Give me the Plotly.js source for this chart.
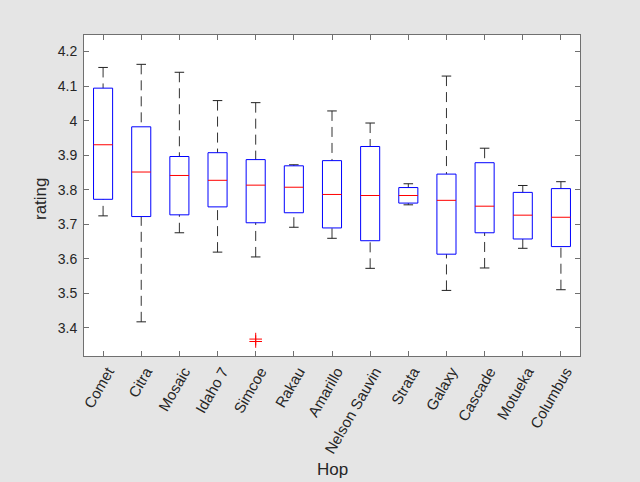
<!DOCTYPE html>
<html><head><meta charset="utf-8">
<script src="https://cdn.plot.ly/plotly-3.0.1.min.js"></script>
<style>html,body{margin:0;padding:0;background:#e5e5e5;}</style>
</head><body><div id="chart" style="width:640px;height:482px;"></div>
<script>
const hops = ["Comet","Citra","Mosaic","Idaho 7","Simcoe","Rakau","Amarillo","Nelson Sauvin","Strata","Galaxy","Cascade","Motueka","Columbus"];
const upperWhisker = [4.154,4.163,4.140,4.058,4.052,3.872,4.028,3.993,3.817,4.129,3.920,3.812,3.823];
const q3Values     = [4.094,3.982,3.896,3.907,3.887,3.869,3.884,3.925,3.806,3.845,3.878,3.792,3.803];
const medians      = [3.930,3.851,3.841,3.827,3.813,3.807,3.786,3.783,3.783,3.769,3.752,3.726,3.720];
const q1Values     = [3.772,3.722,3.727,3.750,3.704,3.733,3.689,3.652,3.761,3.613,3.675,3.657,3.635];
const lowerWhisker = [3.724,3.417,3.675,3.619,3.605,3.691,3.659,3.572,3.756,3.508,3.573,3.630,3.510];
const outlierHop   = ["Simcoe","Simcoe"];
const outlierVals  = [3.367,3.360];
const yTicks       = [3.4,3.5,3.6,3.7,3.8,3.9,4.0,4.1,4.2];
const yTickText    = ['3.4','3.5','3.6','3.7','3.8','3.9','4','4.1','4.2'];

const BW = 0.25, CW = 0.125;
const bx=[],by=[],mx=[],my=[],wx=[],wy=[],cx=[],cy=[];
hops.forEach((h,i)=>{
  const p=i+1;
  bx.push(p-BW,p+BW,p+BW,p-BW,p-BW,null);
  by.push(q1Values[i],q1Values[i],q3Values[i],q3Values[i],q1Values[i],null);
  mx.push(p-BW,p+BW,null); my.push(medians[i],medians[i],null);
  wx.push(p,p,null,p,p,null);
  wy.push(upperWhisker[i],q3Values[i],null,lowerWhisker[i],q1Values[i],null);
  cx.push(p-CW,p+CW,null,p-CW,p+CW,null);
  cy.push(upperWhisker[i],upperWhisker[i],null,lowerWhisker[i],lowerWhisker[i],null);
});
const ox = outlierHop.map(h=>hops.indexOf(h)+1);

const traces=[
 {x:wx,y:wy,mode:'lines',line:{color:'#333',width:1,dash:'10px,6px'},hoverinfo:'skip'},
 {x:cx,y:cy,mode:'lines',line:{color:'#222',width:1},hoverinfo:'skip'},
 {x:bx,y:by,mode:'lines',line:{color:'#0000ff',width:1},hoverinfo:'skip'},
 {x:mx,y:my,mode:'lines',line:{color:'#ff0000',width:1},hoverinfo:'skip'},
 {x:ox,y:outlierVals,mode:'markers',marker:{symbol:'cross-thin-open',size:9,color:'#ff0000',line:{color:'#ff0000',width:1}},hoverinfo:'skip'}
];
const FAM='Liberation Sans, Arial, sans-serif';
const yfnt={family:FAM,size:14,color:'#262626'};
const xfnt={family:FAM,size:15,color:'#262626'};
const tfnt={family:FAM,size:17,color:'#262626'};
const layout={
 width:640,height:482,showlegend:false,
 paper_bgcolor:'#e5e5e5',plot_bgcolor:'#ffffff',
 margin:{l:84,r:60,t:35,b:126},
 font:yfnt,
 xaxis:{range:[0.5,13.5],tickvals:hops.map((h,i)=>i+1),ticktext:hops,tickangle:-60,
   showgrid:false,zeroline:false,showline:true,linecolor:'#707070',linewidth:1,mirror:'ticks',
   ticks:'inside',ticklen:5,tickcolor:'#707070',tickfont:xfnt,ticklabelshift:5,automargin:false},
 yaxis:{range:[3.318,4.248],tickvals:yTicks,ticktext:yTickText,
   showgrid:false,zeroline:false,showline:true,linecolor:'#707070',linewidth:1,mirror:'ticks',
   ticks:'inside',ticklen:5,tickcolor:'#707070',tickfont:yfnt,ticklabelstandoff:3,automargin:false},
 annotations:[
   {text:'Hop',xref:'paper',yref:'paper',x:0.5,y:-0.355,xanchor:'center',yanchor:'middle',showarrow:false,font:tfnt},
   {text:'rating',xref:'paper',yref:'paper',x:-0.0887,y:0.489,xanchor:'center',yanchor:'middle',textangle:-90,showarrow:false,font:tfnt}
 ]
};
Plotly.newPlot('chart',traces,layout,{displayModeBar:false,staticPlot:true});
</script></body></html>
